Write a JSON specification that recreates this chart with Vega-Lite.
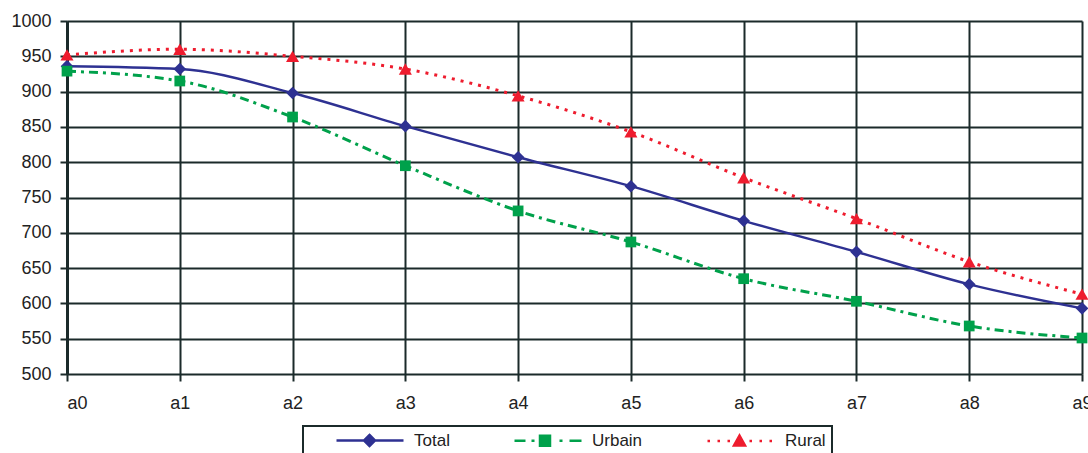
{
  "$schema": "https://vega.github.io/schema/vega-lite/v6.json",
  "width": 1015,
  "height": 353,
  "autosize": "none",
  "padding": {"left": 67, "top": 21, "right": 6, "bottom": 79},
  "background": "white",
  "config": {
    "view": {"stroke": null},
    "font": "Liberation Sans",
    "axis": {
      "labelFont": "Liberation Sans",
      "labelFontSize": 18,
      "labelColor": "#222222",
      "gridColor": "#1b2a2a",
      "gridWidth": 2,
      "gridOpacity": 1,
      "tickColor": "#1b2a2a",
      "tickWidth": 2,
      "tickSize": 7,
      "title": null
    }
  },
  "data": {
    "values": [
      {"x": "a0", "series": "Total", "value": 936},
      {"x": "a1", "series": "Total", "value": 932},
      {"x": "a2", "series": "Total", "value": 898},
      {"x": "a3", "series": "Total", "value": 851},
      {"x": "a4", "series": "Total", "value": 807},
      {"x": "a5", "series": "Total", "value": 766},
      {"x": "a6", "series": "Total", "value": 717},
      {"x": "a7", "series": "Total", "value": 673},
      {"x": "a8", "series": "Total", "value": 627},
      {"x": "a9", "series": "Total", "value": 593},
      {"x": "a0", "series": "Urbain", "value": 929},
      {"x": "a1", "series": "Urbain", "value": 915},
      {"x": "a2", "series": "Urbain", "value": 864},
      {"x": "a3", "series": "Urbain", "value": 795},
      {"x": "a4", "series": "Urbain", "value": 731},
      {"x": "a5", "series": "Urbain", "value": 687},
      {"x": "a6", "series": "Urbain", "value": 635},
      {"x": "a7", "series": "Urbain", "value": 603},
      {"x": "a8", "series": "Urbain", "value": 568},
      {"x": "a9", "series": "Urbain", "value": 551},
      {"x": "a0", "series": "Rural", "value": 952},
      {"x": "a1", "series": "Rural", "value": 960},
      {"x": "a2", "series": "Rural", "value": 950},
      {"x": "a3", "series": "Rural", "value": 932},
      {"x": "a4", "series": "Rural", "value": 894},
      {"x": "a5", "series": "Rural", "value": 843},
      {"x": "a6", "series": "Rural", "value": 778},
      {"x": "a7", "series": "Rural", "value": 720},
      {"x": "a8", "series": "Rural", "value": 659},
      {"x": "a9", "series": "Rural", "value": 613}
    ]
  },
  "encoding": {
    "x": {
      "field": "x",
      "type": "ordinal",
      "scale": {"type": "point", "padding": 0},
      "axis": {
        "labelAngle": 0,
        "grid": true,
        "domain": false,
        "labelPadding": 13,
        "labelAlign": {"condition": {"test": "datum.value === 'a0'", "value": "left"}, "value": "center"}
      }
    },
    "y": {
      "field": "value",
      "type": "quantitative",
      "scale": {"domain": [500, 1000], "nice": false, "zero": false},
      "axis": {
        "values": [500, 550, 600, 650, 700, 750, 800, 850, 900, 950, 1000],
        "format": "d",
        "grid": true,
        "domain": true,
        "domainColor": "#1b2a2a",
        "domainWidth": 3,
        "labelPadding": 9
      }
    },
    "color": {
      "field": "series",
      "type": "nominal",
      "scale": {
        "domain": ["Total", "Urbain", "Rural"],
        "range": ["#2e3192", "#00a14b", "#ee1c2e"]
      },
      "legend": {
        "orient": "none",
        "legendX": 236,
        "legendY": 405,
        "direction": "horizontal",
        "title": null,
        "strokeColor": "#1b2a2a",
        "padding": 6,
        "gridAlign": "each",
        "columnPadding": 37,
        "symbolSize": 100,
        "labelOffset": 88,
        "labelFont": "Liberation Sans",
        "labelFontSize": 17,
        "labelColor": "#222222",
        "encode": {
          "legend": {"update": {"strokeWidth": {"value": 2}}},
          "symbols": {
            "update": {
              "shape": {"signal": "datum.value === 'Total' ? 'M3.8,0H17.2M10.4,-1.1L11.5,0L10.4,1.1L9.3,0Z' : datum.value === 'Urbain' ? 'M3.8,0H6M7.2,0H7.8M8.9,-1H10.9V1H8.9ZM12.8,0H13.4M14.8,0H17.2' : 'M3.8,0H4.3M5.8,0H6.3M7.8,0H8.3M10.2,-1.1L11.3,0.9L9.1,0.9ZM12.2,0H12.7M14.2,0H14.7M16.2,0H16.7'"},
              "fill": {"signal": "datum.value === 'Total' ? '#2e3192' : datum.value === 'Urbain' ? '#00a14b' : '#ee1c2e'"},
              "stroke": {"signal": "datum.value === 'Total' ? '#2e3192' : datum.value === 'Urbain' ? '#00a14b' : '#ee1c2e'"},
              "strokeWidth": {"value": 2.5},
              "opacity": {"value": 1},
              "fillOpacity": {"value": 1}
            }
          }
        }
      }
    }
  },
  "layer": [
    {
      "transform": [{"filter": "datum.series === 'Total'"}],
      "mark": {"type": "line", "interpolate": "monotone", "strokeWidth": 2.4}
    },
    {
      "transform": [{"filter": "datum.series === 'Urbain'"}],
      "mark": {"type": "line", "interpolate": "monotone", "strokeWidth": 3, "strokeDash": [9, 5, 3, 5]}
    },
    {
      "transform": [{"filter": "datum.series === 'Rural'"}],
      "mark": {"type": "line", "interpolate": "monotone", "strokeWidth": 3, "strokeDash": [3, 6]}
    },
    {
      "transform": [{"filter": "datum.series === 'Total'"}],
      "mark": {"type": "point", "shape": "diamond", "filled": true, "size": 160, "opacity": 1}
    },
    {
      "transform": [{"filter": "datum.series === 'Urbain'"}],
      "mark": {"type": "point", "shape": "square", "filled": true, "size": 115, "opacity": 1}
    },
    {
      "transform": [{"filter": "datum.series === 'Rural'"}],
      "mark": {"type": "point", "shape": "triangle-up", "filled": true, "size": 170, "opacity": 1}
    }
  ]
}
